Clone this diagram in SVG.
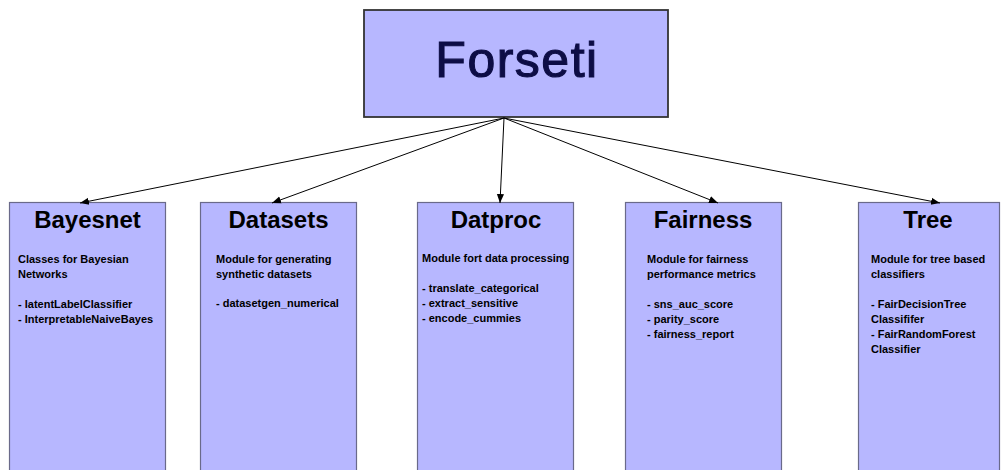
<svg xmlns="http://www.w3.org/2000/svg" width="1003" height="470" viewBox="0 0 1003 470">
<style>
.box{fill:#b7b7ff;stroke:#6a6a8a;stroke-width:1.2}
.top{fill:#b7b7ff;stroke:#333;stroke-width:1.8}
.ttl{font-family:"Liberation Sans",Arial,sans-serif;font-weight:bold;font-size:24px;fill:#000;text-anchor:middle}
.body{font-family:"Liberation Sans",Arial,sans-serif;font-weight:bold;font-size:11px;fill:#000}
.main{font-family:"Liberation Sans",Arial,sans-serif;font-size:50px;fill:#0d0d45;stroke:#0d0d45;stroke-width:1.1;text-anchor:middle;letter-spacing:1.5px}
.con{stroke:#000;stroke-width:1;fill:none;marker-end:url(#ah)}
</style>
<defs>
<marker id="ah" viewBox="0 0 10 10" refX="10" refY="5" markerWidth="9" markerHeight="9" markerUnits="userSpaceOnUse" orient="auto">
<path d="M0,1 L10,5 L0,9 Z" fill="#000"/>
</marker>
</defs>
<rect width="1003" height="470" fill="#fff"/>
<g id="forseti">
<rect class="top" x="364" y="10" width="304" height="107"/>
<text class="main" x="517" y="77">Forseti</text>
</g>
<g id="bayesnet">
<rect class="box" x="9.5" y="202.5" width="156" height="280"/>
<text class="ttl" x="87.5" y="228">Bayesnet</text>
<text class="body"><tspan x="18" y="263">Classes for Bayesian</tspan><tspan x="18" y="278">Networks</tspan><tspan x="18" y="308">- latentLabelClassifier</tspan><tspan x="18" y="323">- InterpretableNaiveBayes</tspan></text>
</g>
<g id="datasets">
<rect class="box" x="200.5" y="202.5" width="156" height="280"/>
<text class="ttl" x="278.5" y="228">Datasets</text>
<text class="body"><tspan x="216" y="263">Module for generating</tspan><tspan x="216" y="278">synthetic datasets</tspan><tspan x="216" y="307">- datasetgen_numerical</tspan></text>
</g>
<g id="datproc">
<rect class="box" x="417.5" y="202.5" width="156" height="280"/>
<text class="ttl" x="496" y="228">Datproc</text>
<text class="body"><tspan x="422" y="262">Module fort data processing</tspan><tspan x="422" y="292">- translate_categorical</tspan><tspan x="422" y="307">- extract_sensitive</tspan><tspan x="422" y="322">- encode_cummies</tspan></text>
</g>
<g id="fairness">
<rect class="box" x="625.5" y="202.5" width="156" height="280"/>
<text class="ttl" x="703" y="228">Fairness</text>
<text class="body"><tspan x="647" y="263">Module for fairness</tspan><tspan x="647" y="278">performance metrics</tspan><tspan x="647" y="308">- sns_auc_score</tspan><tspan x="647" y="323">- parity_score</tspan><tspan x="647" y="338">- fairness_report</tspan></text>
</g>
<g id="tree">
<rect class="box" x="858.5" y="202.5" width="141" height="280"/>
<text class="ttl" x="928" y="228">Tree</text>
<text class="body"><tspan x="871" y="263">Module for tree based</tspan><tspan x="871" y="278">classifiers</tspan><tspan x="871" y="308">- FairDecisionTree</tspan><tspan x="871" y="323">Classififer</tspan><tspan x="871" y="338">- FairRandomForest</tspan><tspan x="871" y="353">Classifier</tspan></text>
</g>
<g id="connectors">
<line class="con" x1="504" y1="118" x2="80" y2="203"/>
<line class="con" x1="504" y1="118" x2="272" y2="203"/>
<line class="con" x1="504" y1="118" x2="500" y2="203"/>
<line class="con" x1="504" y1="118" x2="718" y2="203"/>
<line class="con" x1="504" y1="118" x2="940" y2="203"/>
</g>
</svg>
